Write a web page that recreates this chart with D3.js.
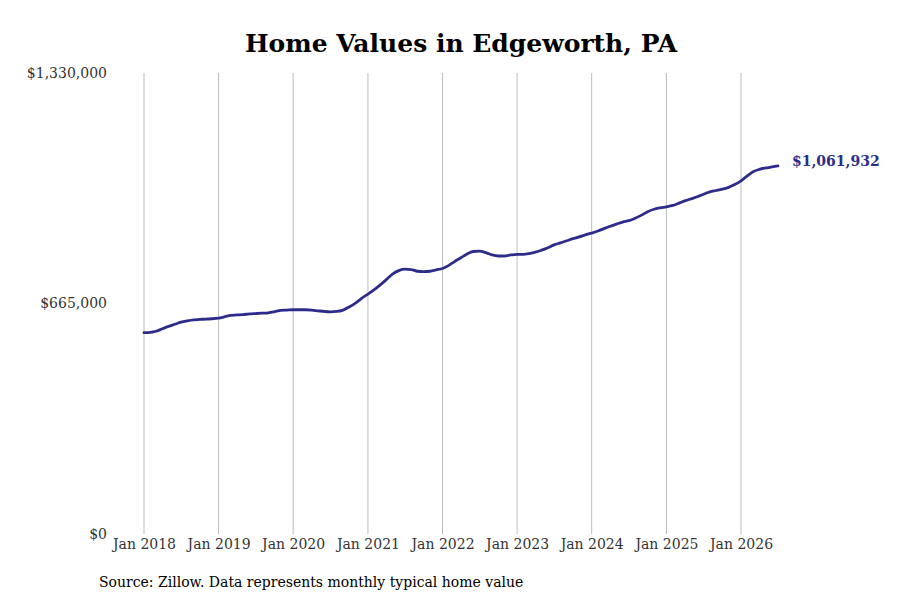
<!DOCTYPE html>
<html>
<head>
<meta charset="utf-8">
<script src="https://cdn.jsdelivr.net/npm/d3@7"></script>
<style>
  html, body { margin: 0; padding: 0; background: #ffffff; }
  #chart { width: 900px; height: 600px; }
  text { font-family: "DejaVu Serif", serif; }
</style>
</head>
<body>
<div id="chart"></div>
<script>
const startMonth = "2018-01";
const values2018 = [581000, 582000, 585000, 592000, 599000, 605000, 611000, 615000, 618000, 619000, 620000, 621000];
const values2019 = [623000, 627000, 631000, 632000, 633000, 635000, 636000, 637000, 638000, 641000, 645000, 646000];
const values2020 = [647000, 647000, 647000, 646000, 644000, 642000, 641000, 642000, 646000, 655000, 666000, 680000];
const values2021 = [692000, 705000, 718000, 734000, 750000, 760000, 764000, 763000, 758000, 757000, 758000, 762000];
const values2022 = [766000, 775000, 786000, 797000, 808000, 815000, 816000, 812000, 805000, 802000, 802000, 805000];
const values2023 = [807000, 807000, 809000, 813000, 819000, 826000, 834000, 840000, 846000, 852000, 857000, 863000];
const values2024 = [868000, 874000, 881000, 888000, 894000, 900000, 904000, 911000, 920000, 930000, 937000, 941000];
const values2025 = [944000, 948000, 954000, 961000, 967000, 973000, 980000, 987000, 991000, 995000, 1000000, 1008000];
const values2026 = [1019000, 1033000, 1045000, 1052000, 1056000, 1059000, 1061932];
const yTicks = [0, 665000, 1330000];
const xTickYears = [2018, 2019, 2020, 2021, 2022, 2023, 2024, 2025, 2026];

const title = "Home Values in Edgeworth, PA";
const source = "Source: Zillow. Data represents monthly typical home value";
const lineColor = "#2e2c8a";

const parseMonth = d3.timeParse("%Y-%m");
const allValues = [values2018, values2019, values2020, values2021, values2022,
  values2023, values2024, values2025, values2026].flat();
const data = allValues.map((value, i) => ({
  date: d3.timeMonth.offset(parseMonth(startMonth), i),
  value
}));

const width = 900;
const height = 600;
const margin = { top: 73, right: 122, bottom: 66, left: 144 };

const svg = d3.select("#chart")
  .append("svg")
  .attr("width", width)
  .attr("height", height);

const x = d3.scaleTime()
  .domain(d3.extent(data, d => d.date))
  .range([margin.left, width - margin.right]);

const y = d3.scaleLinear()
  .domain([0, 1330000])
  .range([height - margin.bottom, margin.top]);

const formatMoney = d3.format("$,.0f");
const tickDates = xTickYears.map(yr => new Date(yr, 0, 1));

// vertical grid at each January
svg.append("g")
  .attr("class", "grid")
  .selectAll("line")
  .data(tickDates)
  .join("line")
  .attr("x1", d => x(d))
  .attr("x2", d => x(d))
  .attr("y1", y(1330000))
  .attr("y2", y(0))
  .attr("stroke", "#bdbdbd")
  .attr("stroke-width", 1);

svg.append("g")
  .attr("transform", `translate(0, ${y(0)})`)
  .call(d3.axisBottom(x).tickValues(tickDates).tickSize(0).tickFormat(d3.timeFormat("Jan %Y")))
  .call(g => g.select(".domain").remove())
  .selectAll("text")
  .attr("dy", "0.71em")
  .attr("y", 5)
  .attr("font-size", 14)
  .attr("font-family", "DejaVu Serif")
  .attr("fill", "#333333");

svg.append("g")
  .attr("transform", `translate(${margin.left - 37}, 0)`)
  .call(d3.axisLeft(y).tickValues(yTicks).tickSize(0).tickFormat(formatMoney))
  .call(g => g.select(".domain").remove())
  .selectAll("text")
  .attr("x", 0)
  .attr("font-size", 14)
  .attr("font-family", "DejaVu Serif")
  .attr("fill", "#333333");

const line = d3.line()
  .x(d => x(d.date))
  .y(d => y(d.value))
  .curve(d3.curveMonotoneX);

svg.append("path")
  .datum(data)
  .attr("fill", "none")
  .attr("stroke", lineColor)
  .attr("stroke-width", 2.8)
  .attr("stroke-linejoin", "round")
  .attr("stroke-linecap", "round")
  .attr("d", line);

const last = data[data.length - 1];
svg.append("text")
  .attr("x", x(last.date) + 14)
  .attr("y", y(last.value) - 5)
  .attr("dy", "0.35em")
  .attr("font-size", 14)
  .attr("font-weight", 700)
  .attr("fill", lineColor)
  .text(formatMoney(last.value));

svg.append("text")
  .attr("x", width / 2 + 11)
  .attr("y", 43)
  .attr("dy", "0.35em")
  .attr("text-anchor", "middle")
  .attr("font-size", 25)
  .attr("font-weight", 700)
  .attr("fill", "#000000")
  .text(title);

svg.append("text")
  .attr("x", 99)
  .attr("y", 582)
  .attr("dy", "0.35em")
  .attr("font-size", 14)
  .attr("fill", "#000000")
  .text(source);
</script>
</body>
</html>
